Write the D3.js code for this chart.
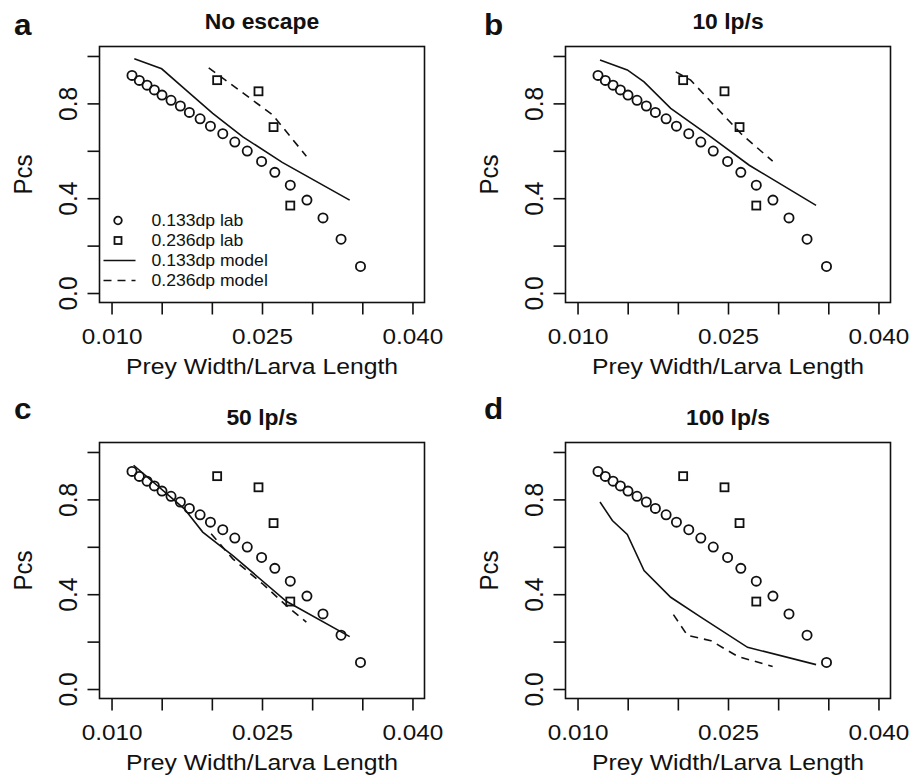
<!DOCTYPE html>
<html>
<head>
<meta charset="utf-8">
<script src="https://cdn.jsdelivr.net/npm/d3@7"></script>
<style>
  body { margin: 0; background: #fff; }
  svg { display: block; font-family: "Liberation Sans", Arial, sans-serif; }
</style>
</head>
<body>
<div class="container"></div>
<script>
// lab data, the same in every panel
var lab133X = [0.01204, 0.01277, 0.01354, 0.01427, 0.01503, 0.01593, 0.01686, 0.01776, 0.01883, 0.01986,
               0.02109, 0.02229, 0.02353, 0.02496, 0.02628, 0.02782, 0.02948, 0.03108, 0.03288, 0.03482];
var lab133Y = [0.918, 0.897, 0.877, 0.857, 0.835, 0.813, 0.789, 0.762, 0.735, 0.704,
               0.672, 0.637, 0.599, 0.555, 0.509, 0.455, 0.392, 0.317, 0.227, 0.112];
var lab236X = [0.02053, 0.02465, 0.02615, 0.02782];
var lab236Y = [0.898, 0.851, 0.700, 0.369];

// model curves, one pair per panel
var noEsc133X = [0.01227, 0.01500, 0.01743, 0.02009, 0.02309, 0.02702, 0.03374];
var noEsc133Y = [0.988, 0.946, 0.856, 0.758, 0.659, 0.551, 0.392];
var noEsc236X = [0.01969, 0.02608, 0.02942];
var noEsc236Y = [0.950, 0.751, 0.577];

var lp10_133X = [0.01224, 0.01496, 0.01663, 0.01929, 0.02329, 0.02712, 0.03378];
var lp10_133Y = [0.983, 0.941, 0.891, 0.779, 0.659, 0.539, 0.370];
var lp10_236X = [0.01979, 0.02128, 0.02628, 0.02945];
var lp10_236Y = [0.933, 0.898, 0.673, 0.556];

var lp50_133X = [0.01220, 0.01726, 0.01909, 0.02209, 0.02742, 0.03374];
var lp50_133Y = [0.944, 0.760, 0.662, 0.563, 0.370, 0.221];
var lp50_236X = [0.01993, 0.02209, 0.02508, 0.02742, 0.02942];
var lp50_236Y = [0.655, 0.549, 0.443, 0.352, 0.282];

var lp100_133X = [0.01224, 0.01347, 0.01496, 0.01663, 0.01929, 0.02229, 0.02695, 0.03378];
var lp100_133Y = [0.789, 0.711, 0.652, 0.500, 0.387, 0.303, 0.176, 0.103];
var lp100_236X = [0.01956, 0.02096, 0.02329, 0.02595, 0.02945];
var lp100_236Y = [0.314, 0.226, 0.204, 0.138, 0.095];

var panelLetters = ["a", "b", "c", "d"];
var panelTitles = ["No escape", "10 lp/s", "50 lp/s", "100 lp/s"];
var xTicks = [0.010, 0.015, 0.020, 0.025, 0.030, 0.035, 0.040];
var xTickLabels = ["0.010", "", "", "0.025", "", "", "0.040"];
var yTicks = [0, 0.2, 0.4, 0.6, 0.8, 1.0];
var yTickLabels = ["0.0", "", "0.4", "", "0.8", ""];
var legendLabels = ["0.133dp lab", "0.236dp lab", "0.133dp model", "0.236dp model"];

var models = [
  [noEsc133X, noEsc133Y, noEsc236X, noEsc236Y],
  [lp10_133X, lp10_133Y, lp10_236X, lp10_236Y],
  [lp50_133X, lp50_133Y, lp50_236X, lp50_236Y],
  [lp100_133X, lp100_133Y, lp100_236X, lp100_236Y]
];

var width = 918, height = 778;
var ink = "#111";
var box = {left: 99.5, top: 46.5, w: 325, h: 256};
var offsets = [[0, 0], [466, 0], [0, 396], [466, 396]];

var svg = d3.select("div.container").append("svg")
    .attr("width", width)
    .attr("height", height);

var x = d3.scaleLinear().domain([0.0088, 0.0412]).range([0, box.w]);
var y = d3.scaleLinear().domain([-0.04, 1.04]).range([box.h, 0]);

function zip(xs, ys) {
  return xs.map(function(v, i) { return [v, ys[i]]; });
}

var line = d3.line()
    .x(function(d) { return x(d[0]); })
    .y(function(d) { return y(d[1]); });

panelTitles.forEach(function(title, p) {
  var ox = offsets[p][0], oy = offsets[p][1];
  var g = svg.append("g")
      .attr("transform", "translate(" + (box.left + ox) + "," + (box.top + oy) + ")");

  // panel letter and title
  var letterY = p < 2 ? -12 : -24;
  svg.append("text")
      .attr("transform", "translate(" + (14 + ox + (p % 2 ? 4 : 0)) + "," + (box.top + oy + letterY) + ") scale(1.05,1)")
      .attr("font-size", 30).attr("font-weight", "bold").attr("fill", ink)
      .text(panelLetters[p]);
  g.append("text")
      .attr("transform", "translate(" + (box.w / 2) + ",-17.5) scale(1.04,1)")
      .attr("text-anchor", "middle")
      .attr("font-size", 22).attr("font-weight", "bold").attr("fill", ink)
      .text(title);

  // axes
  var xAxis = g.append("g")
      .attr("transform", "translate(0," + box.h + ")")
      .call(d3.axisBottom(x).tickValues(xTicks).tickSize(12)
        .tickFormat(function(d, i) { return xTickLabels[i]; }));
  var yAxis = g.append("g")
      .call(d3.axisLeft(y).tickValues(yTicks).tickSize(12)
        .tickFormat(function(d, i) { return yTickLabels[i]; }));
  [xAxis, yAxis].forEach(function(a) {
    a.select(".domain").remove();
    a.selectAll("line").attr("stroke", ink).attr("stroke-width", 1.6);
    a.selectAll("text").attr("fill", ink).attr("font-family", null).attr("x", null).attr("y", null).attr("dy", null);
  });
  xAxis.selectAll("text")
      .attr("font-size", 21.5)
      .attr("text-anchor", "middle")
      .attr("transform", "translate(0,41) scale(1.13,1)");
  yAxis.selectAll("text")
      .attr("font-size", 24.5)
      .attr("text-anchor", "middle")
      .attr("transform", "translate(-22.5,0) rotate(-90) scale(1,1.08)");

  // axis titles
  g.append("text")
      .attr("transform", "translate(" + (box.w / 2) + "," + (box.h + 71) + ") scale(1.15,1)")
      .attr("text-anchor", "middle")
      .attr("font-size", 21.5).attr("fill", ink)
      .text("Prey Width/Larva Length");
  g.append("text")
      .attr("transform", "translate(-67.5," + (box.h / 2) + ") rotate(-90) scale(1,1.05)")
      .attr("text-anchor", "middle")
      .attr("font-size", 24).attr("fill", ink)
      .text("Pcs");

  // box
  g.append("rect")
      .attr("width", box.w).attr("height", box.h)
      .attr("fill", "none").attr("stroke", ink).attr("stroke-width", 1.6);

  // model lines
  var m = models[p];
  g.append("path")
      .datum(zip(m[0], m[1]))
      .attr("d", line)
      .attr("fill", "none").attr("stroke", ink).attr("stroke-width", 1.6);
  g.append("path")
      .datum(zip(m[2], m[3]))
      .attr("d", line)
      .attr("fill", "none").attr("stroke", ink).attr("stroke-width", 1.6)
      .attr("stroke-dasharray", "8,6");

  // lab points
  g.selectAll(".pt133")
      .data(zip(lab133X, lab133Y))
      .enter().append("circle")
      .attr("class", "pt133")
      .attr("cx", function(d) { return x(d[0]); })
      .attr("cy", function(d) { return y(d[1]); })
      .attr("r", 4.6)
      .attr("fill", "none").attr("stroke", ink).attr("stroke-width", 1.8);
  g.selectAll(".pt236")
      .data(zip(lab236X, lab236Y))
      .enter().append("rect")
      .attr("class", "pt236")
      .attr("x", function(d) { return x(d[0]) - 4; })
      .attr("y", function(d) { return y(d[1]) - 4; })
      .attr("width", 8).attr("height", 8)
      .attr("fill", "none").attr("stroke", ink).attr("stroke-width", 1.8);

  // legend only in the first panel
  if (p === 0) {
    var leg = g.append("g").attr("transform", "translate(0,174)");
    legendLabels.forEach(function(lbl, i) {
      var row = leg.append("g").attr("transform", "translate(0," + (i * 20) + ")");
      if (i === 0) {
        row.append("circle").attr("cx", 18.5).attr("cy", 0).attr("r", 3.8)
            .attr("fill", "none").attr("stroke", ink).attr("stroke-width", 1.8);
      } else if (i === 1) {
        row.append("rect").attr("x", 15).attr("y", -3.5).attr("width", 7).attr("height", 7)
            .attr("fill", "none").attr("stroke", ink).attr("stroke-width", 1.8);
      } else {
        row.append("line").attr("x1", 4).attr("x2", 36).attr("y1", 0).attr("y2", 0)
            .attr("stroke", ink).attr("stroke-width", 1.6)
            .attr("stroke-dasharray", i === 3 ? "8,6" : null);
      }
      row.append("text")
          .attr("transform", "translate(52,5.5) scale(1.1,1)")
          .attr("font-size", 16).attr("fill", ink)
          .text(lbl);
    });
  }
});
</script>
</body>
</html>
